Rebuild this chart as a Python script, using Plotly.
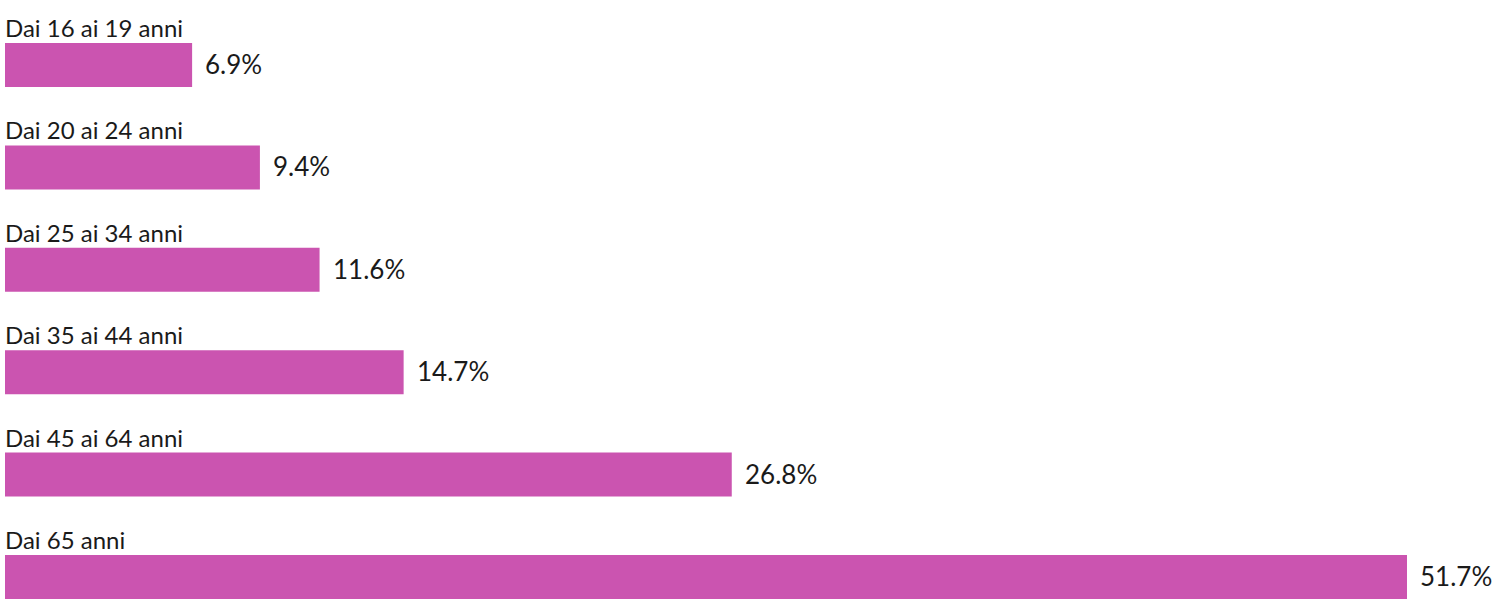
import plotly.graph_objects as go

categories = ["Dai 16 ai 19 anni", "Dai 20 ai 24 anni", "Dai 25 ai 34 anni",
              "Dai 35 ai 44 anni", "Dai 45 ai 64 anni", "Dai 65 anni"]
values = [6.9, 9.4, 11.6, 14.7, 26.8, 51.7]
value_labels = ["6.9%", "9.4%", "11.6%", "14.7%", "26.8%", "51.7%"]

positions = list(range(len(categories)))
FONT = "Lato"
COLOR = "#CB54B0"
BAR_W = 0.43

fig = go.Figure(go.Bar(
    x=values, y=positions, orientation="h",
    marker=dict(color=COLOR, line=dict(width=0)),
    width=BAR_W, hoverinfo="skip",
))

annotations = []
for p, cat, v, lab in zip(positions, categories, values, value_labels):
    annotations.append(dict(
        x=0, xref="x", y=p - BAR_W / 2, yref="y", text=cat,
        xanchor="left", yanchor="bottom", showarrow=False, xshift=-2, yshift=-1,
        font=dict(family=FONT, size=24, color="#1a1a1a"),
    ))
    annotations.append(dict(
        x=v, xref="x", y=p, yref="y", text=lab,
        xanchor="left", yanchor="middle", showarrow=False, xshift=11, yshift=1,
        font=dict(family=FONT, size=26, color="#1a1a1a"),
    ))

fig.update_layout(
    width=1500, height=616,
    margin=dict(l=5, r=93, t=0, b=0),
    paper_bgcolor="white", plot_bgcolor="white",
    showlegend=False,
    xaxis=dict(range=[0, 51.7], visible=False, fixedrange=True),
    yaxis=dict(range=[5.381, -0.635], visible=False, fixedrange=True),
    annotations=annotations,
)

fig.write_html("out.html", config={"displayModeBar": False},
               post_script="document.body.style.margin='0';")
